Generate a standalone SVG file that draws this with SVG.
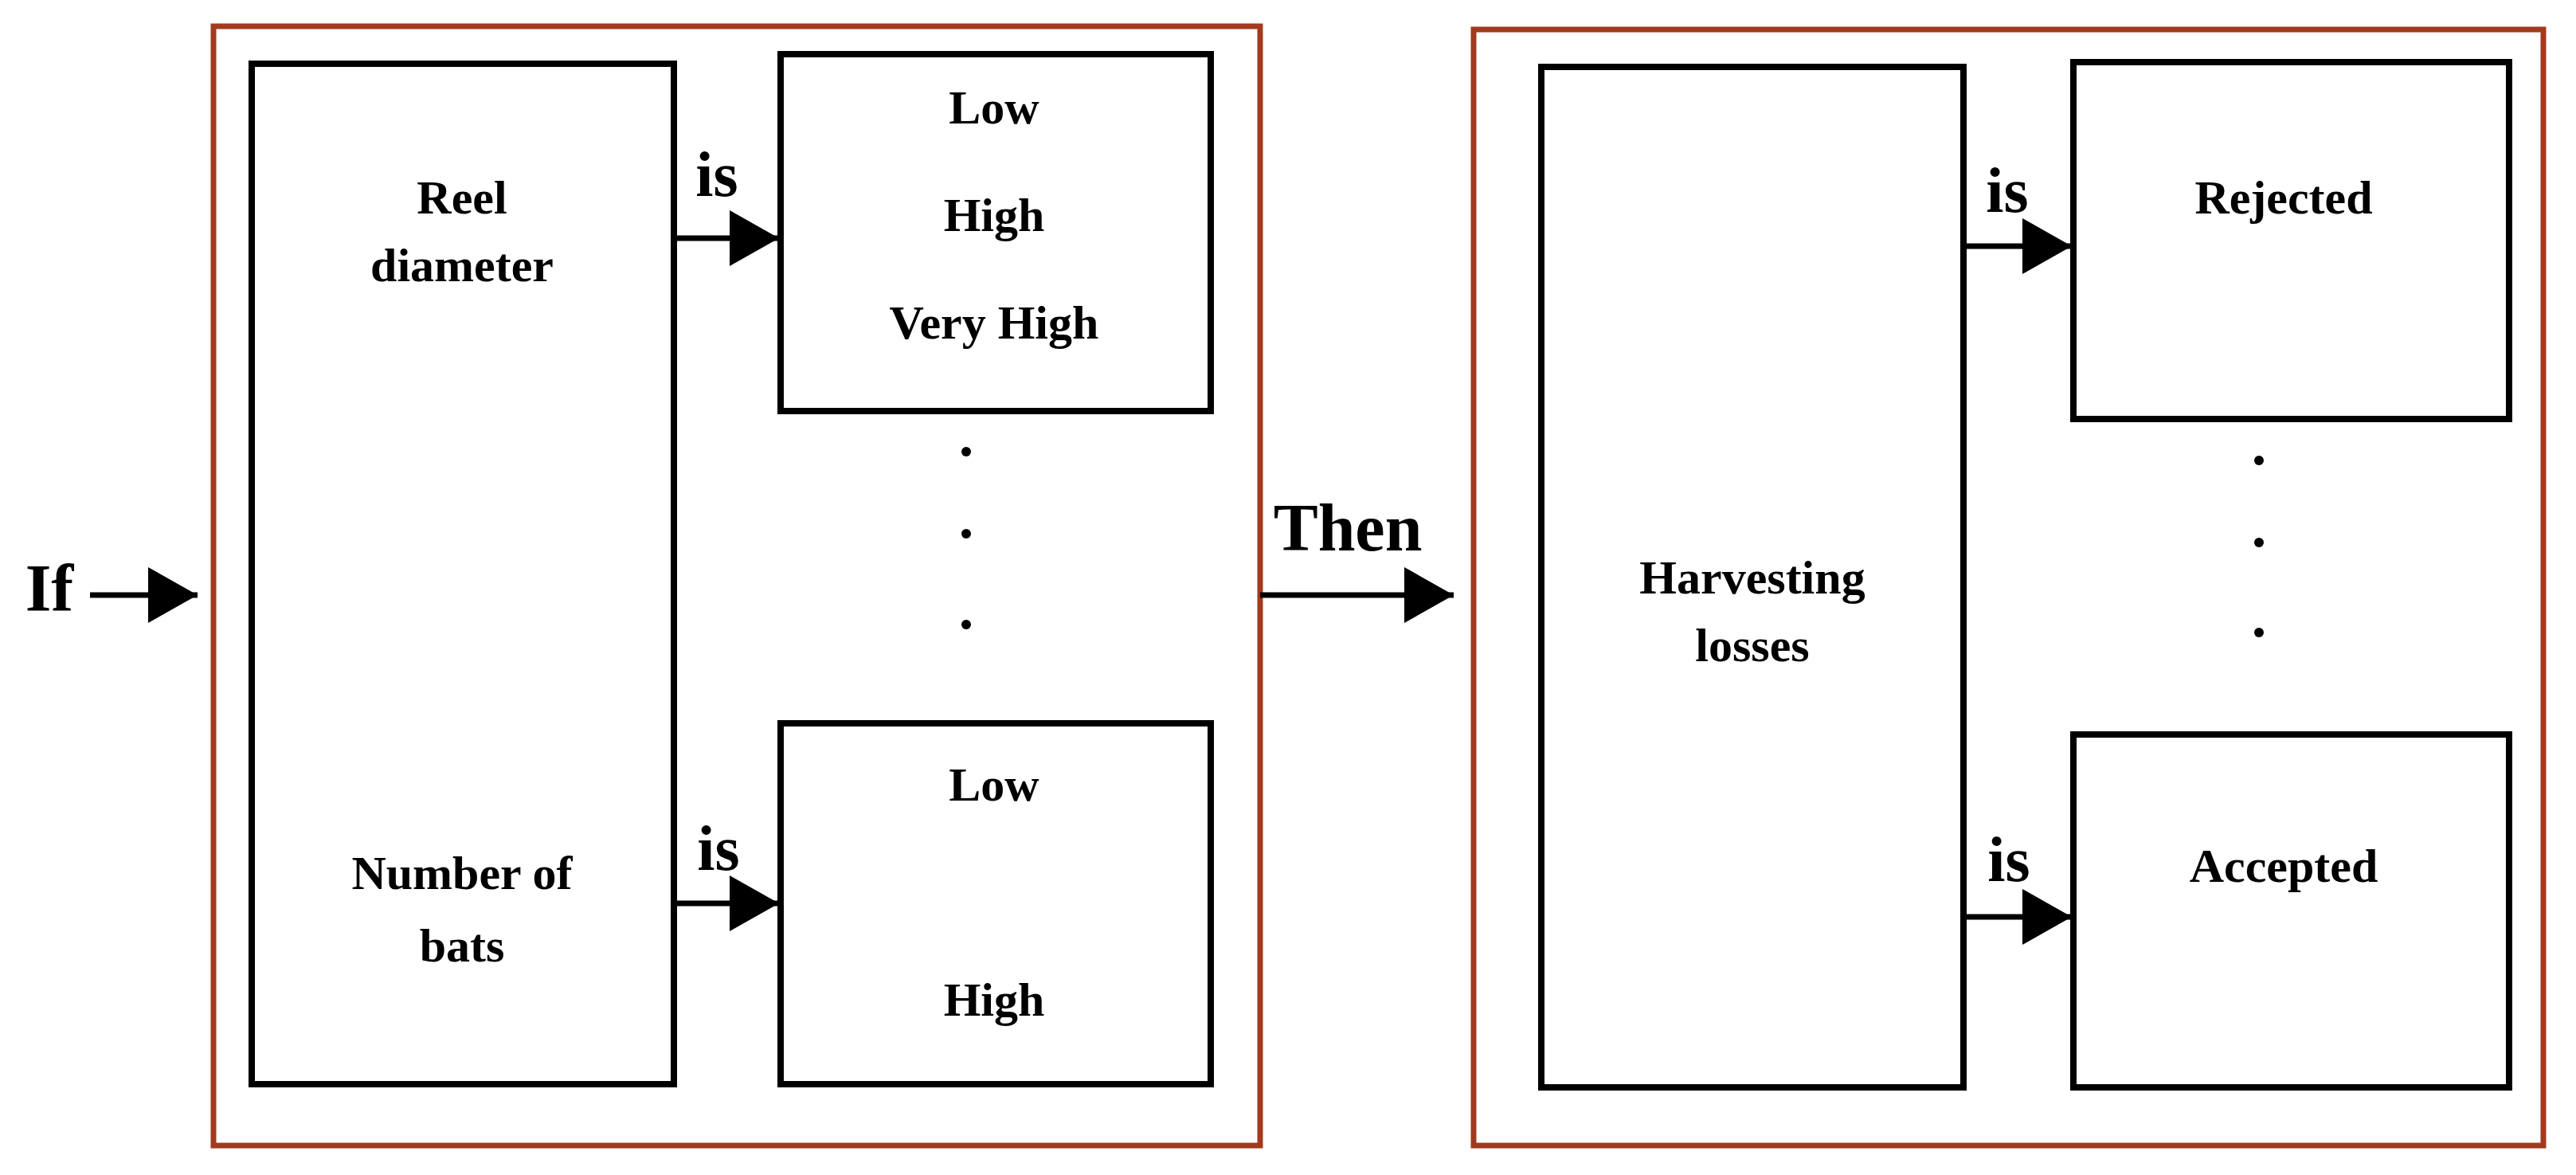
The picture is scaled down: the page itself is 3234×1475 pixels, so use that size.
<svg xmlns="http://www.w3.org/2000/svg" width="3234" height="1475" viewBox="0 0 3234 1475">
<style>
.frame{fill:none;stroke:#A33A1E;stroke-width:7}
.box{fill:#fff;stroke:#000;stroke-width:8}
.line{stroke:#000;stroke-width:7;fill:none}
text{font-family:"Liberation Serif","Times New Roman",serif;font-weight:bold;fill:#000;text-anchor:middle}
.t{font-size:60px}
.is{font-size:80px}
.big{font-size:84px}
</style>
<defs>
<marker id="ah" viewBox="0 0 10 10" refX="10" refY="5" markerWidth="62" markerHeight="70" markerUnits="userSpaceOnUse" orient="auto" preserveAspectRatio="none">
<path d="M0,0 L10,5 L0,10 z" fill="#000"/>
</marker>
</defs>
<rect width="3234" height="1475" fill="#fff"/>
<g id="ifFrame"><rect class="frame" x="268" y="33" width="1314" height="1405"/></g>
<g id="thenFrame"><rect class="frame" x="1850" y="37" width="1343" height="1401"/></g>
<g id="reel"><rect class="box" x="316" y="80" width="530" height="1281"/>
<text class="t" x="580" y="268">Reel</text><text class="t" x="580" y="353">diameter</text>
<text class="t" x="580" y="1116">Number of</text><text class="t" x="580" y="1207">bats</text></g>
<g id="set1"><rect class="box" x="980" y="68" width="540" height="448"/>
<text class="t" x="1248" y="155">Low</text><text class="t" x="1248" y="290">High</text><text class="t" x="1248" y="425">Very High</text></g>
<g id="set2"><rect class="box" x="980" y="908" width="540" height="453"/>
<text class="t" x="1248" y="1005">Low</text><text class="t" x="1248" y="1275">High</text></g>
<g id="dots1" fill="#000"><circle cx="1213" cy="567" r="6"/><circle cx="1213" cy="670" r="6"/><circle cx="1213" cy="784" r="6"/></g>
<g id="harv"><rect class="box" x="1935" y="84" width="530" height="1281"/>
<text class="t" x="2200" y="745">Harvesting</text><text class="t" x="2200" y="830">losses</text></g>
<g id="rej"><rect class="box" x="2603" y="78" width="547" height="448"/>
<text class="t" x="2867" y="268">Rejected</text></g>
<g id="acc"><rect class="box" x="2603" y="922" width="547" height="443"/>
<text class="t" x="2867" y="1107">Accepted</text></g>
<g id="dots2" fill="#000"><circle cx="2836" cy="578" r="6"/><circle cx="2836" cy="681" r="6"/><circle cx="2836" cy="794" r="6"/></g>
<g id="connectors">
<line class="line" x1="113" y1="747" x2="248" y2="747" marker-end="url(#ah)"/>
<line class="line" x1="846" y1="299" x2="978" y2="299" marker-end="url(#ah)"/>
<line class="line" x1="846" y1="1134" x2="978" y2="1134" marker-end="url(#ah)"/>
<line class="line" x1="1582" y1="747" x2="1825" y2="747" marker-end="url(#ah)"/>
<line class="line" x1="2465" y1="309" x2="2601" y2="309" marker-end="url(#ah)"/>
<line class="line" x1="2465" y1="1151" x2="2601" y2="1151" marker-end="url(#ah)"/>
</g>
<g id="labels">
<text class="big" x="62" y="767">If</text>
<text class="big" x="1692" y="691">Then</text>
<text class="is" x="900" y="246">is</text>
<text class="is" x="902" y="1092">is</text>
<text class="is" x="2520" y="266">is</text>
<text class="is" x="2522" y="1106">is</text>
</g>
</svg>
